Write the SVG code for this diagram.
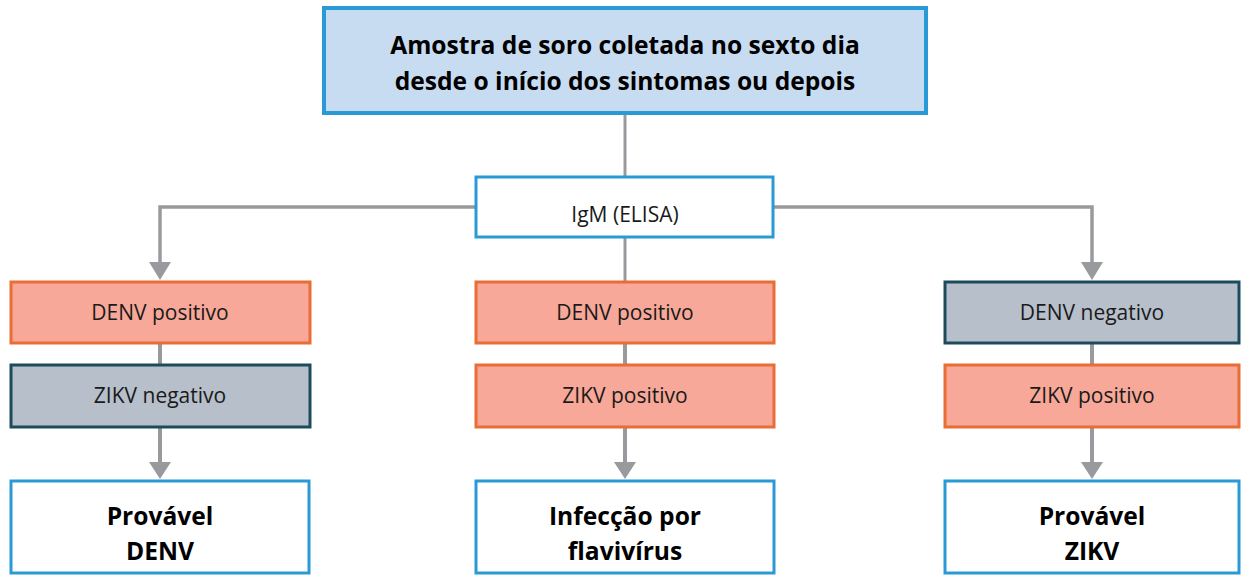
<svg xmlns="http://www.w3.org/2000/svg" width="1241" height="575" viewBox="0 0 1241 575">
<style>
.t{font-family:"Open Sans","Noto Sans","Liberation Sans",sans-serif;fill:#1a1a1a;text-anchor:middle}
.r{font-size:21px}
.b{font-size:24.6px;font-weight:700;fill:#000}
.blue{fill:#fff;stroke:#2A9AD6;stroke-width:3}
.top{fill:#C8DCF1;stroke:#2A9AD6;stroke-width:4}
.pos{fill:#F7A898;stroke:#E96D35;stroke-width:3}
.neg{fill:#B6BFCA;stroke:#1C4C5C;stroke-width:3}
.c{stroke:#999A9D;fill:none}
.ah{fill:#999A9D}
</style>
<g id="connectors">
<line class="c" x1="625" y1="113" x2="625" y2="177" stroke-width="3"/>
<polyline class="c" points="476,207 160,207 160,264" stroke-width="3.5"/>
<polygon class="ah" points="149,262 171,262 160,280"/>
<polyline class="c" points="773,207 1092,207 1092,264" stroke-width="3.5"/>
<polygon class="ah" points="1081,262 1103,262 1092,280"/>
<line class="c" x1="625" y1="237" x2="625" y2="282" stroke-width="3"/>
<line class="c" x1="160" y1="343" x2="160" y2="365" stroke-width="4"/>
<line class="c" x1="625" y1="343" x2="625" y2="365" stroke-width="4"/>
<line class="c" x1="1092" y1="343" x2="1092" y2="365" stroke-width="4"/>
<line class="c" x1="160" y1="427" x2="160" y2="464" stroke-width="4"/>
<polygon class="ah" points="149,462 171,462 160,479"/>
<line class="c" x1="625" y1="427" x2="625" y2="464" stroke-width="4"/>
<polygon class="ah" points="614,462 636,462 625,479"/>
<line class="c" x1="1092" y1="427" x2="1092" y2="464" stroke-width="4"/>
<polygon class="ah" points="1081,462 1103,462 1092,479"/>
</g>
<g id="top">
<rect class="top" x="324" y="8" width="602" height="105"/>
<text class="t b" x="625" y="54">Amostra de soro coletada no sexto dia</text>
<text class="t b" x="625" y="90">desde o início dos sintomas ou depois</text>
</g>
<g id="igm">
<rect class="blue" x="476" y="177" width="297" height="60"/>
<text class="t r" x="625" y="222">IgM (ELISA)</text>
</g>
<g id="l1">
<rect class="pos" x="11" y="282" width="299" height="61"/>
<text class="t r" x="160" y="320">DENV positivo</text>
</g>
<g id="l2">
<rect class="neg" x="11" y="365" width="299" height="62"/>
<text class="t r" x="160" y="403">ZIKV negativo</text>
</g>
<g id="l3">
<rect class="blue" x="11" y="481" width="298" height="92"/>
<text class="t b" x="160" y="525">Provável</text>
<text class="t b" x="160" y="560">DENV</text>
</g>
<g id="m1">
<rect class="pos" x="476" y="282" width="298" height="61"/>
<text class="t r" x="625" y="320">DENV positivo</text>
</g>
<g id="m2">
<rect class="pos" x="476" y="365" width="298" height="62"/>
<text class="t r" x="625" y="403">ZIKV positivo</text>
</g>
<g id="m3">
<rect class="blue" x="476" y="481" width="298" height="92"/>
<text class="t b" x="625" y="525">Infecção por</text>
<text class="t b" x="625" y="560">flavivírus</text>
</g>
<g id="r1">
<rect class="neg" x="945" y="282" width="294" height="61"/>
<text class="t r" x="1092" y="320">DENV negativo</text>
</g>
<g id="r2">
<rect class="pos" x="945" y="365" width="294" height="62"/>
<text class="t r" x="1092" y="403">ZIKV positivo</text>
</g>
<g id="r3">
<rect class="blue" x="945" y="481" width="294" height="92"/>
<text class="t b" x="1092" y="525">Provável</text>
<text class="t b" x="1092" y="560">ZIKV</text>
</g>
</svg>
